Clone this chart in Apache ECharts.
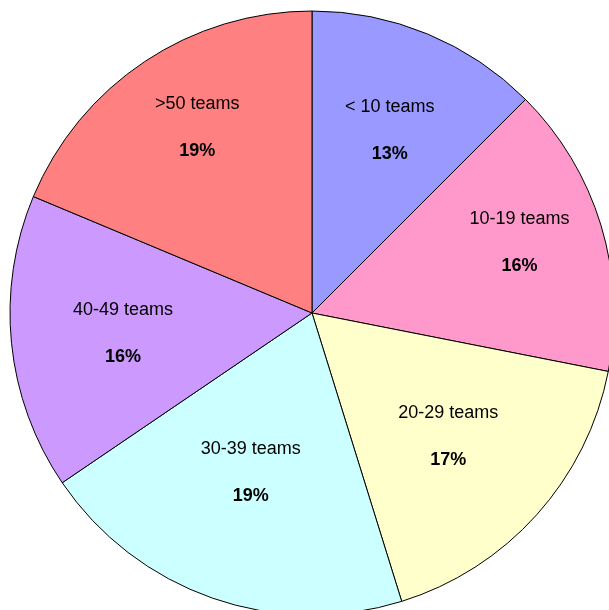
<!DOCTYPE html>
<html>
<head>
<meta charset="utf-8">
<script src="https://cdn.jsdelivr.net/npm/echarts@6/dist/echarts.min.js"></script>
<style>
  html, body { margin: 0; padding: 0; background: #fff; }
  #pie { width: 609px; height: 610px; }
</style>
</head>
<body>
<div id="pie"></div>
<script>
// slice sizes (angles), and the printed percentages
var categories = ['< 10 teams', '10-19 teams', '20-29 teams', '30-39 teams', '40-49 teams', '>50 teams'];
var values = [12.5, 15.6, 17.1, 20.3, 15.8, 18.7];
var pctLabels = ['13%', '16%', '17%', '19%', '16%', '19%'];
var colors = ['#9999ff', '#ff99cc', '#ffffcc', '#ccffff', '#cc99ff', '#ff8080'];
// small per-label nudges so the text sits like the original
var labelNudge = [[2, 0], [18, -13], [-11, -9], [4, -27], [8, 1], [-5, -21]];

var myChart = echarts.init(document.getElementById('pie'));

var sliceData = categories.map(function (c, i) {
  return { name: c, value: values[i], itemStyle: { color: colors[i] } };
});
var labelData = categories.map(function (c, i) {
  return { name: c, value: values[i], label: { offset: labelNudge[i] } };
});

var option = {
  animation: false,
  series: [
    {
      name: 'teams',
      type: 'pie',
      center: [312, 313],
      radius: [0, 302],
      startAngle: 90,
      clockwise: true,
      silent: true,
      label: { show: false },
      labelLine: { show: false },
      itemStyle: { borderColor: '#000', borderWidth: 1 },
      emphasis: { disabled: true },
      data: sliceData
    },
    {
      // transparent copy only used to place the labels further out
      name: 'labels',
      type: 'pie',
      center: [312, 313],
      radius: [95, 295],
      startAngle: 90,
      clockwise: true,
      silent: true,
      itemStyle: { color: 'rgba(0,0,0,0)', borderWidth: 0 },
      emphasis: { disabled: true },
      labelLine: { show: false },
      label: {
        show: true,
        position: 'inside',
        color: '#000',
        fontFamily: 'Liberation Sans, Arial, sans-serif',
        formatter: function (p) {
          return '{n|' + p.name + '}\n{p|' + pctLabels[p.dataIndex] + '}';
        },
        rich: {
          n: { fontSize: 18, lineHeight: 47, color: '#000', fontFamily: 'Liberation Sans, Arial, sans-serif' },
          p: { fontSize: 18, lineHeight: 47, fontWeight: 'bold', color: '#000', fontFamily: 'Liberation Sans, Arial, sans-serif' }
        }
      },
      data: labelData
    }
  ]
};

myChart.setOption(option);
</script>
</body>
</html>
